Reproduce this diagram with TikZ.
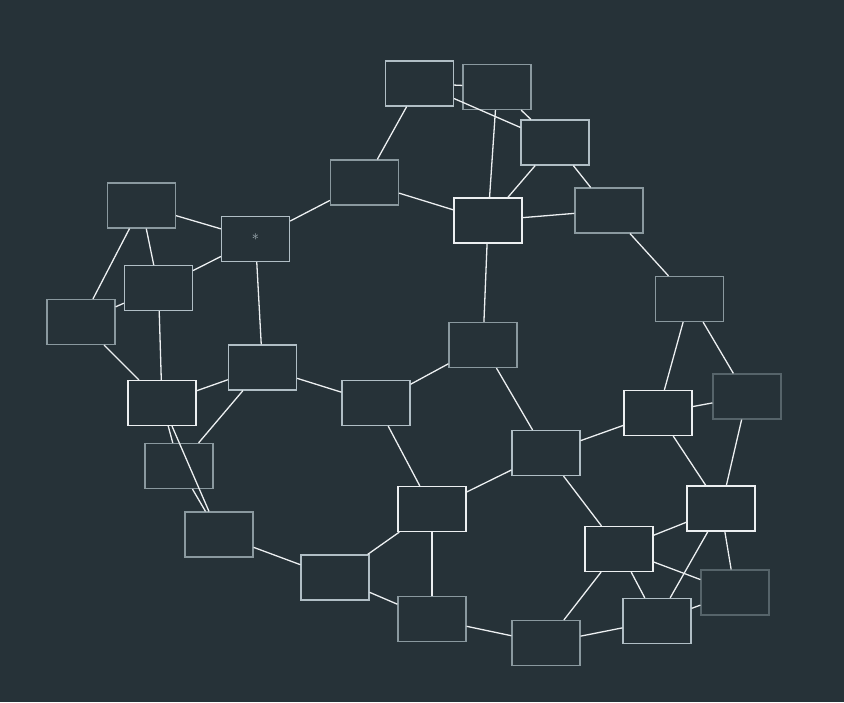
\documentclass[tikz,border=0pt]{standalone}
\usepackage{tikz}
\usetikzlibrary{positioning}
\usepackage{xcolor}
\definecolor{bg}{HTML}{263238}
\definecolor{linec}{HTML}{ECEFF1}
\definecolor{lgrey}{HTML}{B0BEC5}
\definecolor{mgrey}{HTML}{8A999F}
\definecolor{dgrey}{HTML}{56646A}
\tikzset{
  box/.style={rectangle, draw=lgrey, fill=bg, minimum width=68pt,
              minimum height=45pt, inner sep=0pt, line width=1.2pt,
              text=lgrey, font=\Large},
  wbox/.style={box, draw=linec},
  gbox/.style={box, draw=mgrey},
  dbox/.style={box, draw=dgrey},
  link/.style={draw=linec, line width=1.3pt},
}
\begin{document}
\begin{tikzpicture}[x=1pt, y=-1pt]
        \fill[bg] (0,0) rectangle (844,702);
        \useasboundingbox (0,0) rectangle (844,702);
        \node[box]  (n1)  at (419.5,83.5) {};
        \node[gbox] (n2)  at (497,87) {};
        \node[box]  (n3)  at (555,142.5) {};
        \node[gbox] (n4)  at (364.5,182.5) {};
        \node[wbox] (n5)  at (488,220.5) {};
        \node[gbox] (n6)  at (609,210.5) {};
        \node[gbox] (n7)  at (141.5,205.5) {};
        \node[box]  (n8)  at (255.5,239) {*};
        \node[box]  (n9)  at (158.5,288) {};
        \node[gbox] (n10) at (81,322) {};
        \node[gbox] (n11) at (689.5,299) {};
        \node[gbox] (n12) at (483,345) {};
        \node[box]  (n13) at (262.5,367.5) {};
        \node[box]  (n14) at (376,403) {};
        \node[wbox] (n15) at (162,403) {};
        \node[dbox] (n16) at (747,396.5) {};
        \node[wbox] (n17) at (658,413) {};
        \node[gbox] (n18) at (179,466) {};
        \node[box]  (n19) at (546,453) {};
        \node[wbox] (n20) at (432,509) {};
        \node[wbox] (n21) at (721,508.5) {};
        \node[gbox] (n22) at (219,534.5) {};
        \node[wbox] (n23) at (619,549) {};
        \node[box]  (n24) at (335,577.5) {};
        \node[dbox] (n25) at (735,592.5) {};
        \node[gbox] (n26) at (432,619) {};
        \node[box]  (n27) at (657,621) {};
        \node[gbox] (n28) at (546,643) {};
        \draw[link] (n1)--(n2); \draw[link] (n1)--(n3); \draw[link] (n1)--(n4);
        \draw[link] (n2)--(n3); \draw[link] (n2)--(n5); \draw[link] (n3)--(n5);
        \draw[link] (n3)--(n6); \draw[link] (n4)--(n5); \draw[link] (n4)--(n8);
        \draw[link] (n5)--(n6); \draw[link] (n5)--(n12); \draw[link] (n6)--(n11);
        \draw[link] (n7)--(n8); \draw[link] (n7)--(n9); \draw[link] (n7)--(n10);
        \draw[link] (n8)--(n9); \draw[link] (n8)--(n13); \draw[link] (n9)--(n10);
        \draw[link] (n9)--(n15); \draw[link] (n10)--(n15); \draw[link] (n11)--(n17);
        \draw[link] (n11)--(n16); \draw[link] (n12)--(n14); \draw[link] (n12)--(n19);
        \draw[link] (n13)--(n15); \draw[link] (n13)--(n14); \draw[link] (n13)--(n18);
        \draw[link] (n15)--(n18); \draw[link] (n18)--(n22); \draw[link] (n15)--(n22);
        \draw[link] (n14)--(n20); \draw[link] (n19)--(n20); \draw[link] (n19)--(n17);
        \draw[link] (n19)--(n23); \draw[link] (n17)--(n16); \draw[link] (n17)--(n21);
        \draw[link] (n16)--(n21); \draw[link] (n20)--(n24); \draw[link] (n20)--(n26);
        \draw[link] (n24)--(n26); \draw[link] (n22)--(n24); \draw[link] (n26)--(n28);
        \draw[link] (n23)--(n21); \draw[link] (n23)--(n25); \draw[link] (n23)--(n27);
        \draw[link] (n23)--(n28); \draw[link] (n21)--(n27); \draw[link] (n21)--(n25);
        \draw[link] (n27)--(n25); \draw[link] (n28)--(n27);
      \end{tikzpicture}
\end{document}
